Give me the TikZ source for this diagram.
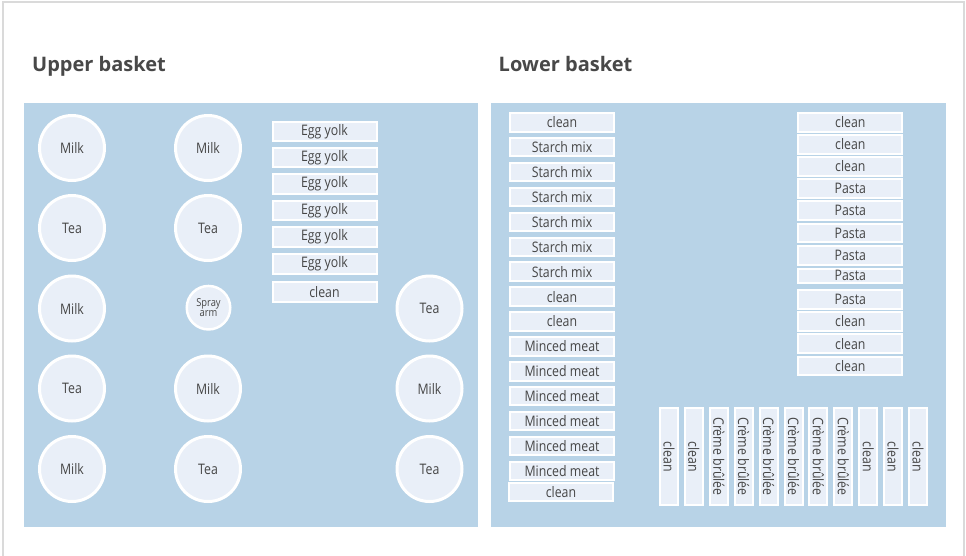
\documentclass[tikz,border=0pt]{standalone}
\usepackage{fontspec}
\setmainfont{Open Sans}
\newfontfamily\labelfont{Open Sans}[FakeStretch=0.85]
\definecolor{panel}{RGB}{184,211,231}
\definecolor{boxfill}{RGB}{233,239,248}
\definecolor{txt}{RGB}{70,70,70}
\definecolor{ttl}{RGB}{72,72,72}
\definecolor{framec}{RGB}{218,218,218}
\begin{document}
\begin{tikzpicture}[x=1pt,y=-1pt,
  lbl/.style={font=\labelfont\fontsize{14.5}{16}\selectfont, text=txt},
  slot/.style={lbl, draw=white, line width=2pt, fill=boxfill, minimum width=104pt, minimum height=18.5pt, inner sep=0pt},
  vslot/.style={slot, minimum width=97pt, minimum height=18pt, rotate=-90},
  dish/.style={lbl, circle, draw=white, line width=3pt, fill=boxfill, minimum size=65pt, inner sep=0pt},
  smalldish/.style={circle, draw=white, line width=2.5pt, fill=boxfill, minimum size=43.5pt, inner sep=0pt, text=txt, align=center, font=\labelfont\fontsize{11}{10}\selectfont},
  title/.style={font=\bfseries\fontsize{20}{24}\selectfont, text=ttl, anchor=base west, inner sep=0pt}]
\useasboundingbox (0,0) rectangle (966,555);
\fill[white] (0,0) rectangle (966,555);
\draw[framec, line width=2pt] (3,560) -- (3,2) -- (964,2) -- (964,560);
% titles
\node[title] (tU) at (32,71) {Upper basket};
\node[title] (tL) at (498.5,71) {Lower basket};
% panels
\fill[panel] (24,103) rectangle (478,526.5);
\fill[panel] (491,103) rectangle (946,526.5);
% upper basket dishes
\foreach \n/\x/\y/\t in {a1/72/148/Milk, a2/72/228/Tea, a3/72/308.5/Milk, a4/72/388.5/Tea, a5/72/469/Milk,
  b1/208/148/Milk, b2/208/228/Tea, b4/208/388.5/Milk, b5/208/469/Tea,
  c3/429.5/308.5/Tea, c4/429.5/388.5/Milk, c5/429.5/469/Tea}
  \node[dish] (\n) at (\x,\y) {\t};
\node[smalldish] (spray) at (208.5,307.7) {Spray\\arm};
% egg yolk column
\foreach \n/\y/\t in {e1/131.5/Egg yolk, e2/157.5/Egg yolk, e3/184/Egg yolk, e4/210.5/Egg yolk, e5/237/Egg yolk, e6/264/Egg yolk, e7/292/clean}
  \node[slot, minimum height=19.5pt] (\n) at (324.5,\y) {\t};
% lower basket left column
\foreach \i/\t in {0/clean, 1/Starch mix, 2/Starch mix, 3/Starch mix, 4/Starch mix, 5/Starch mix, 6/Starch mix,
  7/clean, 8/clean, 9/Minced meat, 10/Minced meat, 11/Minced meat, 12/Minced meat, 13/Minced meat, 14/Minced meat}
  \node[slot] (L\i) at (562,{122.3+24.9*\i}) {\t};
\node[slot] (L15) at (561,492) {clean};
% lower basket right column
\foreach \n/\y/\t in {R1/122.5/clean, R2/144.3/clean, R3/166.3/clean, R4/188.5/Pasta, R5/210.5/Pasta, R6/233/Pasta, R7/255.3/Pasta}
  \node[slot] (\n) at (850.3,\y) {\t};
\node[slot, minimum height=14.5pt] (R8) at (850.3,275.8) {Pasta};
\foreach \n/\y/\t in {R9/299.3/Pasta, R10/321.3/clean, R11/343.7/clean, R12/365.8/clean}
  \node[slot] (\n) at (850.3,\y) {\t};
% vertical slots
\foreach \i/\t in {0/clean, 1/clean, 2/Crème brûlée, 3/Crème brûlée, 4/Crème brûlée, 5/Crème brûlée, 6/Crème brûlée, 7/Crème brûlée, 8/clean, 9/clean, 10/clean}
  \node[vslot] (V\i) at ({669+24.9*\i},456.5) {\t};
\end{tikzpicture}
\end{document}
